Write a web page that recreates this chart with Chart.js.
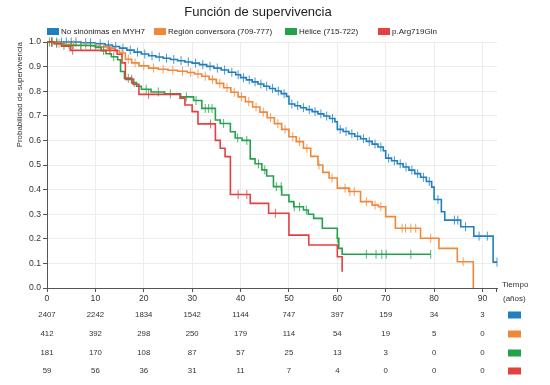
<!DOCTYPE html>
<html lang="es">
<head>
<meta charset="UTF-8">
<title>Función de supervivencia</title>
<script src="https://cdn.jsdelivr.net/npm/chart.js"></script>
<style>
  html, body { margin: 0; padding: 0; background: #fff; }
  #wrap { width: 550px; height: 385px; }
</style>
</head>
<body>
<div id="wrap"><canvas id="km" width="550" height="385"></canvas></div>
<script>
const FONT = '"Liberation Sans", Arial, sans-serif';
const TEXT = '#333';

const titleText = 'Función de supervivencia';
const seriesLabels = ['No sinónimas en MYH7', 'Región conversora (709-777)', 'Hélice (715-722)', 'p.Arg719Gln'];
const seriesColors = ['#1f7fbf', '#f0883a', '#23a24d', '#e3413f'];

// step times (años) and survival right after each step
const blueTimes = [0, 7, 10, 12, 13.5, 15, 16.5, 18, 19.5, 21, 22.5, 24, 25.5, 27, 28.5, 30, 31.5, 33, 34.5, 36,
  37.5, 39, 40, 41.2, 42.4, 43.6, 44.8, 46, 47.2, 48.4, 49.5, 50, 51.2, 52.4, 53.6, 54.8, 56, 57.2, 58.4, 59.5,
  60, 61.2, 62.4, 63.6, 64.8, 66, 67.2, 68.4, 69.5, 70, 71.2, 72.4, 73.6, 74.8, 76, 77.2, 78.4, 79.5, 80, 81.5,
  82.2, 85.5, 88.2, 92.2, 93];
const blueSurv = [1, 0.997, 0.993, 0.988, 0.982, 0.975, 0.967, 0.959, 0.951, 0.944, 0.939, 0.934, 0.929, 0.924, 0.919, 0.914, 0.908, 0.901, 0.894, 0.886,
  0.877, 0.867, 0.855, 0.846, 0.838, 0.829, 0.82, 0.811, 0.801, 0.79, 0.779, 0.748, 0.741, 0.733, 0.725, 0.717, 0.708, 0.699, 0.689, 0.676,
  0.645, 0.636, 0.627, 0.617, 0.607, 0.596, 0.585, 0.573, 0.558, 0.528, 0.517, 0.505, 0.492, 0.479, 0.465, 0.45, 0.433, 0.41, 0.36, 0.31,
  0.276, 0.249, 0.211, 0.105, 0.105];
const blueCensor = [1, 2, 3, 4, 5, 6, 8, 9, 11, 12.7, 14.2, 15.7, 17.2, 18.7, 20.2, 21.7, 23.2, 24.7, 26.2, 27.7, 29.2,
  30.7, 32.2, 33.7, 35.2, 36.7, 38.2, 39.5, 40.6, 41.8, 43, 44.2, 45.4, 46.6, 47.8, 49, 50.6, 51.8, 53, 54.2, 55.4,
  56.6, 57.8, 59, 60.6, 61.8, 63, 64.2, 65.4, 66.6, 67.8, 69, 70.6, 71.8, 73, 74.2, 75.4, 76.6, 77.8, 79, 80.8,
  84.2, 84.9, 86.5, 89.3, 91, 93];

const orangeTimes = [0, 2, 3.5, 6, 9, 11, 12.5, 14, 15, 16.2, 17.5, 19, 21, 23, 25, 27, 29, 30.5, 32, 33.5,
  35, 36.5, 38, 39.5, 41, 42.5, 44, 45.5, 47, 48.5, 50, 51.5, 53, 54.5, 56, 57, 58.3, 60, 62.4, 64.8,
  67.2, 68.5, 70, 72, 77.2, 81, 84.8, 88.1];
const orangeSurv = [1, 0.995, 0.99, 0.987, 0.984, 0.98, 0.975, 0.965, 0.955, 0.93, 0.915, 0.903, 0.894, 0.889, 0.885, 0.881, 0.876, 0.87, 0.861, 0.848,
  0.832, 0.814, 0.796, 0.777, 0.757, 0.736, 0.715, 0.692, 0.668, 0.645, 0.615, 0.595, 0.568, 0.535, 0.5, 0.47, 0.447, 0.406, 0.392, 0.351,
  0.337, 0.33, 0.29, 0.243, 0.202, 0.161, 0.107, 0];
const orangeCensor = [1, 2.5, 4.5, 5.5, 7, 8, 10, 11.7, 13, 15.5, 16.8, 18.2, 20, 22, 24, 26, 28, 29.7, 31.2, 32.7,
  34.2, 35.7, 37.2, 38.7, 40.2, 41.7, 43.2, 44.7, 46.2, 47.7, 49.2, 50.8, 52.2, 53.7, 56.2, 58.9, 61.6, 62.6,
  63.5, 66, 67.8, 69, 73.4, 74.1, 75.2, 76.2, 79.3, 86];

const greenTimes = [0, 1.5, 3, 10, 11.2, 12.2, 13.3, 14.6, 15.2, 16, 17.5, 18.5, 19.5, 21.5, 24.3, 27.6, 30.3, 32, 34.8, 35.8,
  37.9, 38.9, 40.3, 42, 43, 44.4, 45.4, 46.8, 48.5, 50, 51, 53, 54, 55.1, 56.9, 60, 60.3, 61, 79.3];
const greenSurv = [1, 0.994, 0.986, 0.978, 0.965, 0.952, 0.94, 0.928, 0.88, 0.853, 0.835, 0.82, 0.808, 0.797, 0.789, 0.777, 0.762, 0.73, 0.683, 0.669,
  0.635, 0.61, 0.6, 0.525, 0.505, 0.48, 0.455, 0.412, 0.378, 0.351, 0.33, 0.317, 0.3, 0.283, 0.243, 0.202, 0.161, 0.137, 0.137];
const greenCensor = [0.5, 1, 2, 3.5, 5, 7, 9, 11.7, 13.8, 16.8, 18, 20.5, 23, 25.5, 28.8, 30.8, 32.7, 33.4, 34.1,
  36.5, 39.4, 41.3, 43.7, 45, 47.4, 48.4, 51.1, 52.2, 53.6, 60, 66, 68, 69.2, 70.1, 75.2, 79.3];

const redTimes = [0, 1.5, 3, 4.8, 14.5, 15.5, 16.2, 17.8, 19, 27.5, 28.5, 30, 31.2, 34.8, 35.8, 36.8, 37.9, 42, 45.8, 50, 54.1, 60, 61];
const redSurv = [1, 0.993, 0.983, 0.966, 0.95, 0.915, 0.848, 0.828, 0.787, 0.772, 0.744, 0.717, 0.667, 0.6, 0.568, 0.534, 0.38, 0.344, 0.304, 0.215, 0.175, 0.127, 0.066];
const redCensor = [1, 5.3, 13, 17.5, 21, 33.8, 39.5, 41.3, 47.2];

// numbers at risk
const riskTimes = [0, 10, 20, 30, 40, 50, 60, 70, 80, 90];
const riskBlue = [2407, 2242, 1834, 1542, 1144, 747, 397, 159, 34, 3];
const riskOrange = [412, 392, 298, 250, 179, 114, 54, 19, 5, 0];
const riskGreen = [181, 170, 108, 87, 57, 25, 13, 3, 0, 0];
const riskRed = [59, 56, 36, 31, 11, 7, 4, 0, 0, 0];

const stepSets = [[blueTimes, blueSurv], [orangeTimes, orangeSurv], [greenTimes, greenSurv], [redTimes, redSurv]];
const censorSets = [blueCensor, orangeCensor, greenCensor, redCensor];
const riskRows = [riskBlue, riskOrange, riskGreen, riskRed];

function survivalAt(times, surv, t) {
  let s = surv[0];
  for (let i = 0; i < times.length; i++) {
    if (times[i] <= t) s = surv[i];
  }
  return s;
}

function withAlpha(hex, a) {
  const n = parseInt(hex.slice(1), 16);
  return `rgba(${n >> 16}, ${(n >> 8) & 255}, ${n & 255}, ${a})`;
}

const datasets = [];
// draw order: red first, blue last (on top)
for (let k = 3; k >= 0; k--) {
  const [times, surv] = stepSets[k];
  datasets.push({
    label: seriesLabels[k],
    data: times.map((t, i) => ({ x: t, y: surv[i] })),
    showLine: true,
    stepped: true,
    borderColor: seriesColors[k],
    borderWidth: 1.6,
    pointRadius: 0,
    clip: 8
  });
  datasets.push({
    label: seriesLabels[k] + ' censura',
    data: censorSets[k].map(t => ({ x: t, y: survivalAt(times, surv, t) })),
    showLine: false,
    pointStyle: 'line',
    rotation: 90,
    pointRadius: 4.5,
    borderWidth: 1,
    pointBorderColor: withAlpha(seriesColors[k], 0.8),
    clip: 8
  });
}

const decor = {
  id: 'decor',
  afterDraw(chart) {
    const ctx = chart.ctx;
    const xs = chart.scales.x;
    const area = chart.chartArea;
    ctx.save();
    ctx.fillStyle = '#222';

    // title
    ctx.font = `13px ${FONT}`;
    ctx.textAlign = 'center';
    ctx.textBaseline = 'middle';
    ctx.fillText(titleText, 258, 12);

    // legend
    const legendX = [47, 154, 285, 378];
    ctx.font = `8px ${FONT}`;
    ctx.textAlign = 'left';
    seriesLabels.forEach((lab, k) => {
      ctx.fillStyle = seriesColors[k];
      ctx.fillRect(legendX[k], 28, 12, 7);
      ctx.fillStyle = '#222';
      ctx.fillText(lab, legendX[k] + 14, 32);
    });

    // y axis title
    ctx.save();
    ctx.translate(20, area.top);
    ctx.rotate(-Math.PI / 2);
    ctx.font = `7.9px ${FONT}`;
    ctx.fillStyle = TEXT;
    ctx.textAlign = 'right';
    ctx.textBaseline = 'middle';
    ctx.fillText('Probabilidad de supervivencia', 0, 0);
    ctx.restore();

    // end tick of x axis
    ctx.strokeStyle = '#555';
    ctx.lineWidth = 1;
    ctx.beginPath();
    ctx.moveTo(Math.round(area.right) - 0.5, area.bottom);
    ctx.lineTo(Math.round(area.right) - 0.5, area.bottom + 4);
    ctx.stroke();

    // axis caption
    ctx.fillStyle = TEXT;
    ctx.font = `8px ${FONT}`;
    ctx.textAlign = 'left';
    ctx.fillText('Tiempo', 502, 285);
    ctx.fillText('(años)', 503, 299);

    // risk table
    const rowY = [315, 334, 353, 371];
    ctx.font = `7.8px ${FONT}`;
    ctx.textAlign = 'center';
    riskRows.forEach((row, r) => {
      ctx.fillStyle = TEXT;
      row.forEach((v, i) => {
        ctx.fillText(String(v), xs.getPixelForValue(riskTimes[i]), rowY[r]);
      });
      ctx.fillStyle = seriesColors[r];
      ctx.fillRect(508, rowY[r] - 3.5, 13, 7);
    });
    ctx.restore();
  }
};

new Chart(document.getElementById('km'), {
  type: 'scatter',
  data: { datasets },
  options: {
    responsive: false,
    animation: false,
    events: [],
    layout: { padding: { left: 0, right: 53, top: 42, bottom: 0 } },
    plugins: { legend: { display: false }, title: { display: false }, tooltip: { enabled: false } },
    scales: {
      x: {
        type: 'linear',
        min: 0,
        max: 93,
        afterFit: s => { s.height = 97; },
        ticks: { stepSize: 10, includeBounds: false, padding: 1, color: TEXT, font: { family: FONT, size: 8.6 } },
        grid: { color: '#ececec', tickColor: '#555', tickLength: 4 },
        border: { color: '#555' }
      },
      y: {
        min: 0,
        max: 1,
        afterFit: s => { s.width = 47; },
        ticks: { stepSize: 0.1, padding: 2, color: TEXT, font: { family: FONT, size: 8.6 }, callback: v => v.toFixed(1) },
        grid: { color: '#ececec', tickColor: '#555', tickLength: 4 },
        border: { color: '#555' }
      }
    }
  },
  plugins: [decor]
});
</script>
</body>
</html>
